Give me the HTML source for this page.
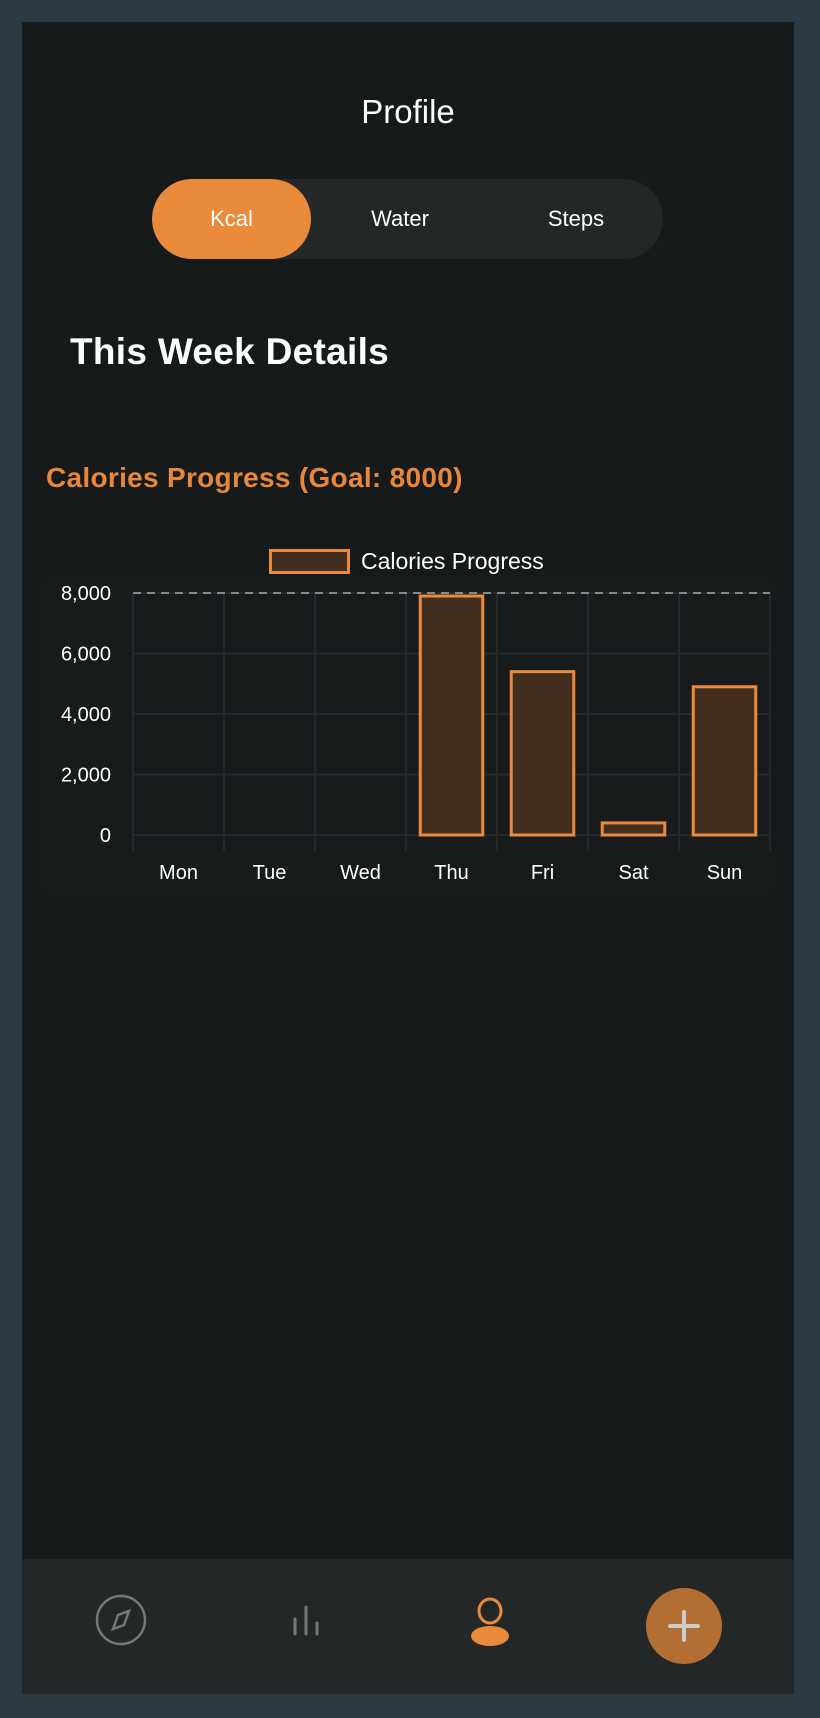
<!DOCTYPE html>
<html><head><meta charset="utf-8"><style>
html,body{margin:0;padding:0;width:820px;height:1718px;background:#2c3a43;overflow:hidden;font-family:"Liberation Sans",sans-serif}
#frame{position:absolute;left:22px;top:22px;width:772px;height:1672px;background:#161a1b}
.abs{position:absolute}
</style></head><body>
<div id="frame"></div>
<div class="abs" style="left:0;width:816px;top:93px;text-align:center;color:#fff;font-size:33px">Profile</div>
<div class="abs" style="left:152px;top:179px;width:511px;height:80px;border-radius:40px;background:#232728"></div>
<div class="abs" style="left:152px;top:179px;width:159px;height:80px;border-radius:40px;background:#ea8a3b;color:#fff;font-size:22px;line-height:80px;text-align:center">Kcal</div>
<div class="abs" style="left:340px;top:179px;width:120px;height:80px;color:#fff;font-size:22px;line-height:80px;text-align:center">Water</div>
<div class="abs" style="left:516px;top:179px;width:120px;height:80px;color:#fff;font-size:22px;line-height:80px;text-align:center">Steps</div>
<div class="abs" style="left:70px;top:331px;color:#fff;font-size:37px;font-weight:bold;letter-spacing:0.3px">This Week Details</div>
<div class="abs" style="left:46px;top:462px;color:#e8873a;font-size:28px;font-weight:bold;letter-spacing:0.3px">Calories Progress (Goal: 8000)</div>
<div class="abs" style="left:46px;top:580px;width:724px;height:310px;border-radius:12px;background:#171b1c"></div>
<svg id="chart" class="abs" style="left:0;top:0" width="820" height="900"></svg>
<div class="abs" style="left:22px;top:1559px;width:772px;height:135px;background:#232728"></div>
<svg class="abs" style="left:0;top:1559px" width="820" height="135">
<g><circle cx="121" cy="61" r="24" fill="none" stroke="#777" stroke-width="2.5"/><polygon points="129,52 124,66 113,70 118,56" fill="none" stroke="#777" stroke-width="2.5"/></g>
<g stroke="#777" stroke-width="3" stroke-linecap="round"><line x1="295" y1="60" x2="295" y2="75"/><line x1="306" y1="48" x2="306" y2="75"/><line x1="317" y1="64" x2="317" y2="75"/></g>
<g><ellipse cx="490" cy="52" rx="11" ry="12" fill="none" stroke="#ea8a3b" stroke-width="3"/><ellipse cx="490" cy="77" rx="19" ry="10" fill="#ea8a3b"/></g>
<g><circle cx="684" cy="67" r="38" fill="#b36e33"/><path d="M670 67H698M684 53V81" stroke="#ccc" stroke-width="4" stroke-linecap="round"/></g>
</svg>
<script>
const categories=["Mon","Tue","Wed","Thu","Fri","Sat","Sun"];
const values=[0,0,0,7950,5450,450,4950];
const yTicks=[0,2000,4000,6000,8000];
const goal=8000;
const svg=document.getElementById('chart');const NS="http://www.w3.org/2000/svg";
const L=133,R=770,T=593,B=835,yMax=8000;
const y=v=>B-(v/yMax)*(B-T);
const bw=(R-L)/categories.length;
const x=i=>L+bw*i;
function mk(t,a,txt){const e=document.createElementNS(NS,t);for(const k in a)e.setAttribute(k,a[k]);if(txt!=null)e.textContent=txt;svg.appendChild(e);return e;}
yTicks.forEach(t=>{
 const g=mk('line',{x1:L,x2:R,y1:y(t),y2:y(t),stroke:'#26292b','stroke-width':2});
 
 
 const l=mk('text',{x:111,y:y(t)+7,'text-anchor':'end',fill:'#fff','font-size':20,'font-family':'Liberation Sans'},t.toLocaleString('en-US'));
 
 
});
for(let i=0;i<=categories.length;i++){
 const g=mk('line',{x1:x(i),x2:x(i),y1:T,y2:851,stroke:'#26292b','stroke-width':2});
 
 
}
const gl=mk('line',{x1:L,x2:R,y1:y(goal),y2:y(goal),stroke:'#888','stroke-width':2,'stroke-dasharray':'8,6'});


categories.forEach((c,i)=>{
 const w=bw*0.72,bx=x(i)+(bw-w)/2;
 if(values[i]>0){
  const r=mk('rect',{x:bx+1.5,y:y(values[i])+1.5,width:w-3,height:B-y(values[i])-1.5,fill:'#432f20',stroke:'#ea8a3b','stroke-width':3});
  
  
 }
 const t=mk('text',{x:x(i)+bw/2,y:879,'text-anchor':'middle',fill:'#fff','font-size':20,'font-family':'Liberation Sans'},c);
 
 
});
const lb=mk('rect',{x:270.5,y:550.5,width:78,height:22,fill:'#432f20',stroke:'#ea8a3b','stroke-width':3});


const lt=mk('text',{x:361,y:569,fill:'#fff','font-size':23,'font-family':'Liberation Sans'},'Calories Progress');


</script>
</body></html>
